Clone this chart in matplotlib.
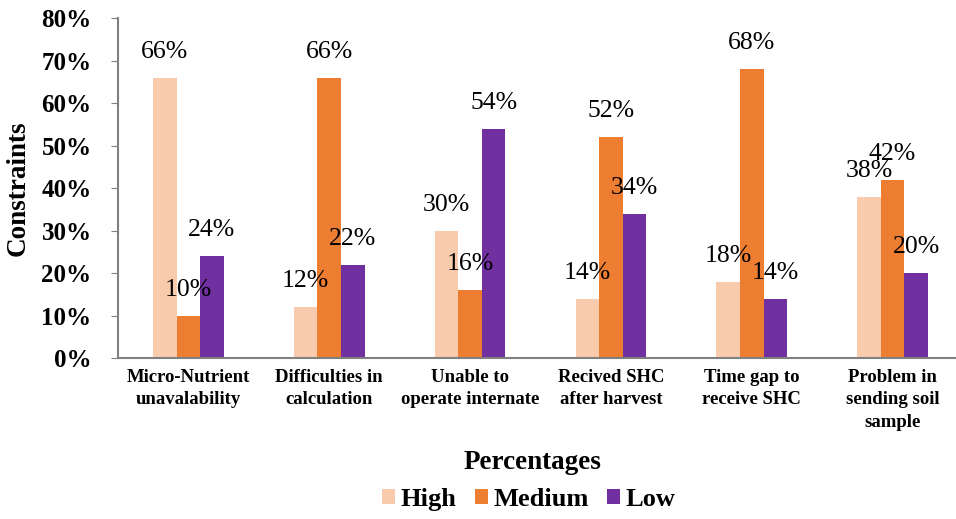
# Constraints faced by farmers - grouped bar chart
import numpy as np
import matplotlib.pyplot as plt

# chart data
categories = ['Micro-Nutrient\nunavalability', 'Difficulties in\ncalculation',
              'Unable to\noperate internate', 'Recived SHC\nafter harvest',
              'Time gap to\nreceive SHC', 'Problem in\nsending soil\nsample']
high = [66, 12, 30, 14, 18, 38]
medium = [10, 66, 16, 52, 68, 42]
low = [24, 22, 54, 34, 14, 20]
series_names = ['High', 'Medium', 'Low']
colors = ['#F8CBAD', '#ED7D31', '#7030A0']
yticks = [0, 10, 20, 30, 40, 50, 60, 70, 80]

plt.rcParams['font.family'] = ['Liberation Serif', 'DejaVu Serif']

fig = plt.figure(figsize=(9.56, 5.19), dpi=100)
ax = fig.add_axes([0.1234, 0.310, 0.8766, 0.655])

x = np.arange(len(categories))
w = 0.167
for i, (vals, name, col) in enumerate(zip([high, medium, low], series_names, colors)):
    pos = x + (i - 1) * w
    ax.bar(pos, vals, width=w, color=col, label=name)
    for px, v in zip(pos, vals):
        ax.annotate('%d%%' % v, (px, v), xytext=(0, 26), textcoords='offset pixels',
                    ha='center', va='center', fontsize=18.5)

ax.set_xlim(-0.5, 5.45)
ax.set_ylim(0, 80)
ax.set_yticks(yticks)
ax.set_yticklabels(['%d%%' % t for t in yticks], fontsize=18, fontweight='bold')
ax.set_xticks(x)
ax.set_xticklabels(categories, fontsize=13.5, fontweight='bold', linespacing=1.4)
ax.tick_params(axis='x', length=0, pad=8)
ax.tick_params(axis='y', length=5, color='#808080', pad=14)
for s in ['top', 'right']:
    ax.spines[s].set_visible(False)
for s in ['left', 'bottom']:
    ax.spines[s].set_color('#808080')
    ax.spines[s].set_linewidth(1.5)

ax.set_ylabel('Constraints', fontsize=19.5, fontweight='bold')
ax.yaxis.set_label_coords(-0.104, 0.5)
fig.text(0.5575, 0.108, 'Percentages', ha='center', va='center', fontsize=19.5, fontweight='bold')

fig.legend(loc='center', bbox_to_anchor=(0.553, 0.037), ncol=3, frameon=False,
           prop={'size': 19, 'weight': 'bold'}, handlelength=0.5, handleheight=0.5,
           handletextpad=0.2, columnspacing=0.7)

plt.savefig('out.png', dpi=100)
